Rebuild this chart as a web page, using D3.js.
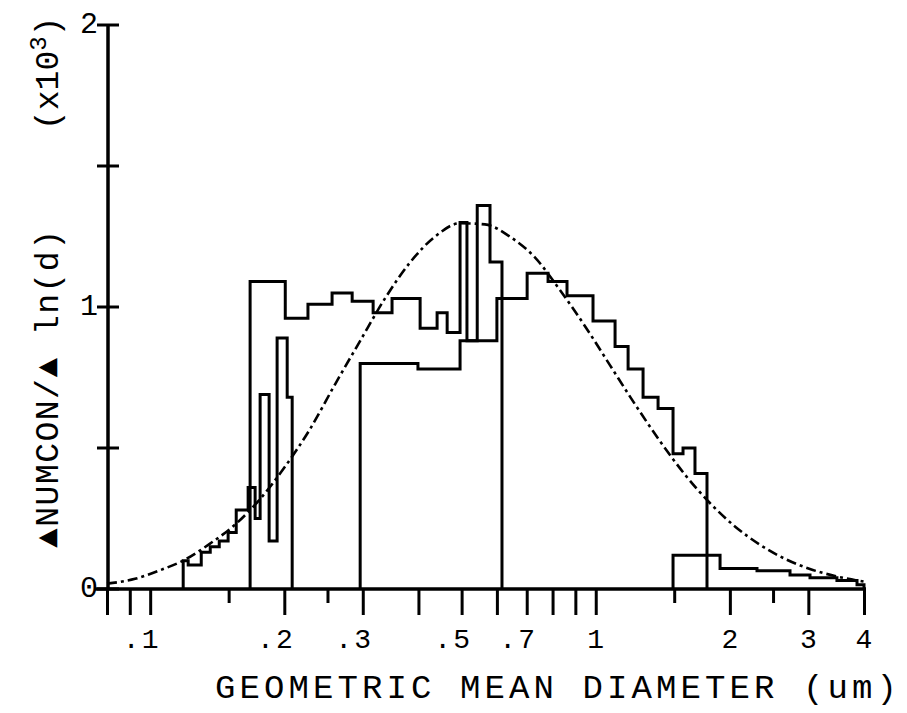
<!DOCTYPE html>
<html>
<head>
<meta charset="utf-8">
<script src="https://cdn.jsdelivr.net/npm/d3@7"></script>
<style>
  body { margin: 0; background: #fff; }
  text { font-family: "Liberation Mono", "Courier New", monospace; fill: #000; }
</style>
</head>
<body>
<svg id="chart" width="907" height="713"></svg>
<script>
// bin edges in um (n+1 edges) and dN/dln(d) per bin, in units of 10^3
var edgesS1 = [0.1186, 0.1217, 0.1302, 0.1364, 0.1429, 0.1496, 0.156, 0.1659, 0.172, 0.1765, 0.1849, 0.1927, 0.203, 0.2083];
var valsS1  = [0.10, 0.085, 0.13, 0.15, 0.17, 0.20, 0.28, 0.36, 0.25, 0.69, 0.17, 0.89, 0.68];

var edgesS2 = [0.1676, 0.201, 0.226, 0.256, 0.284, 0.3165, 0.349, 0.4035, 0.4405, 0.464, 0.496, 0.514, 0.600,
               0.7015, 0.7816, 0.862, 0.986, 1.105, 1.182, 1.277, 1.380, 1.491, 1.570, 1.670, 1.777];
var valsS2  = [1.09, 0.96, 1.01, 1.05, 1.02, 0.98, 1.03, 0.925, 0.98, 0.91, 1.30, 0.88,
               1.03, 1.12, 1.09, 1.04, 0.95, 0.86, 0.78, 0.68, 0.64, 0.48, 0.50, 0.41];

var edgesS3 = [0.296, 0.399, 0.496, 0.542, 0.579, 0.616];
var valsS3  = [0.80, 0.78, 0.88, 1.36, 1.16];

var edgesS4 = [1.491, 1.901, 2.301, 2.729, 3.026, 3.478, 3.858, 4.0];
var valsS4  = [0.12, 0.073, 0.065, 0.05, 0.04, 0.03, 0.015];

// fitted lognormal, sampled
var fitD = [0.08, 0.0925, 0.105, 0.120, 0.136, 0.155, 0.176, 0.201, 0.228, 0.260, 0.296, 0.337, 0.383,
            0.436, 0.496, 0.564, 0.642, 0.731, 0.831, 0.946, 1.076, 1.225, 1.393, 1.585, 1.804,
            2.053, 2.336, 2.658, 3.025, 3.442, 4.0];
var fitV = [0.019, 0.036, 0.066, 0.105, 0.160, 0.228, 0.317, 0.435, 0.565, 0.726, 0.88, 1.032, 1.158,
            1.25, 1.297, 1.293, 1.249, 1.175, 1.06, 0.932, 0.794, 0.655, 0.525, 0.406, 0.305,
            0.222, 0.157, 0.107, 0.071, 0.046, 0.026];

var xMajor = [0.08, 0.09, 0.1, 0.2, 0.3, 0.4, 0.5, 0.6, 0.7, 0.8, 0.9, 1, 2, 3, 4];
var xMinor = [0.15, 0.25, 1.5, 2.5];
var xLabelVals = [0.1, 0.2, 0.3, 0.5, 0.7, 1, 2, 3, 4];
var xLabels = [".1", ".2", ".3", ".5", ".7", "1", "2", "3", "4"];
var yTicks = [0, 0.5, 1, 1.5, 2];
var yLabelVals = [0, 1, 2];

var svg = d3.select("#chart");

var x = d3.scaleLog().domain([0.08, 4]).range([107, 864]);
var y = d3.scaleLinear().domain([0, 2]).range([589, 25]);

// x axis: long and short ticks hanging below the line
var xAxisLong = d3.axisBottom(x).tickValues(xMajor).tickSize(26).tickFormat("");
var xAxisShort = d3.axisBottom(x).tickValues(xMinor).tickSize(14).tickFormat("");
svg.append("g").attr("transform", "translate(0,589)").call(xAxisLong);
svg.append("g").attr("transform", "translate(0,589)").call(xAxisShort);
svg.selectAll(".domain").remove();
svg.selectAll(".tick line").attr("stroke", "#000").attr("stroke-width", 3);
svg.append("line")
  .attr("x1", 95).attr("x2", 866).attr("y1", 589).attr("y2", 589)
  .attr("stroke", "#000").attr("stroke-width", 3.5);

// digit sits under its tick, the leading point is set off to the left
var xlab = svg.selectAll(".xlab").data(xLabelVals).enter().append("g")
  .attr("class", "xlab")
  .attr("transform", function(d) { return "translate(" + x(d) + ",648)"; });
xlab.append("text")
  .attr("text-anchor", "middle")
  .style("font-size", "28px")
  .text(function(d, i) { return xLabels[i].replace(".", ""); });
xlab.filter(function(d, i) { return xLabels[i].charAt(0) == "."; })
  .append("text")
  .attr("x", -19)
  .attr("text-anchor", "middle")
  .style("font-size", "28px")
  .text(".");

// y axis
var yAxis = d3.axisLeft(y).tickValues(yTicks).tickSize(0).tickFormat("");
svg.append("g").attr("transform", "translate(108,0)").call(yAxis)
  .select(".domain").remove();
svg.append("line")
  .attr("x1", 108).attr("x2", 108).attr("y1", y(2)).attr("y2", 589)
  .attr("stroke", "#000").attr("stroke-width", 3.5);
svg.selectAll(".ytick").data(yTicks).enter().append("line")
  .attr("x1", 97).attr("x2", 119)
  .attr("y1", function(d) { return y(d); })
  .attr("y2", function(d) { return y(d); })
  .attr("stroke", "#000").attr("stroke-width", 3);
svg.selectAll(".ylab").data(yLabelVals).enter().append("text")
  .attr("x", 89)
  .attr("y", function(d) { return y(d) + 8; })
  .attr("text-anchor", "middle")
  .style("font-size", "30px")
  .text(function(d) { return d; });

// step outline for one set of bins
function stepPoints(edges, vals) {
  var pts = [[edges[0], 0]];
  vals.forEach(function(v, i) {
    pts.push([edges[i], v]);
    pts.push([edges[i + 1], v]);
  });
  pts.push([edges[edges.length - 1], 0]);
  return pts;
}

var stepLine = d3.line()
  .x(function(d) { return x(d[0]); })
  .y(function(d) { return y(d[1]); });

[[edgesS1, valsS1], [edgesS2, valsS2], [edgesS3, valsS3], [edgesS4, valsS4]].forEach(function(s) {
  svg.append("path")
    .attr("d", stepLine(stepPoints(s[0], s[1])))
    .attr("fill", "none")
    .attr("stroke", "#000")
    .attr("stroke-width", 3)
    .attr("stroke-linejoin", "miter");
});

var fitLine = d3.line()
  .x(function(d) { return x(d[0]); })
  .y(function(d) { return y(d[1]); })
  .curve(d3.curveMonotoneX);

svg.append("path")
  .attr("d", fitLine(fitD.map(function(d, i) { return [d, fitV[i]]; })))
  .attr("fill", "none")
  .attr("stroke", "#000")
  .attr("stroke-width", 2.6)
  .attr("stroke-dasharray", "10,4,3,4");

// axis titles
svg.append("text")
  .attr("x", 215).attr("y", 698)
  .attr("textLength", 682)
  .attr("lengthAdjust", "spacing")
  .style("font-size", "34px")
  .text("GEOMETRIC MEAN DIAMETER (um)");

svg.append("text")
  .attr("transform", "translate(58,548) rotate(-90)")
  .attr("textLength", 318)
  .attr("lengthAdjust", "spacing")
  .style("font-size", "33px")
  .text("\u25B2NUMCON/\u25B2 ln(d)");

var unit = svg.append("text")
  .attr("transform", "translate(58,130) rotate(-90)")
  .style("font-size", "33px");
unit.append("tspan").text("(x10");
unit.append("tspan").attr("dy", -12).style("font-size", "24px").text("3");
unit.append("tspan").attr("dy", 12).text(")");
</script>
</body>
</html>
